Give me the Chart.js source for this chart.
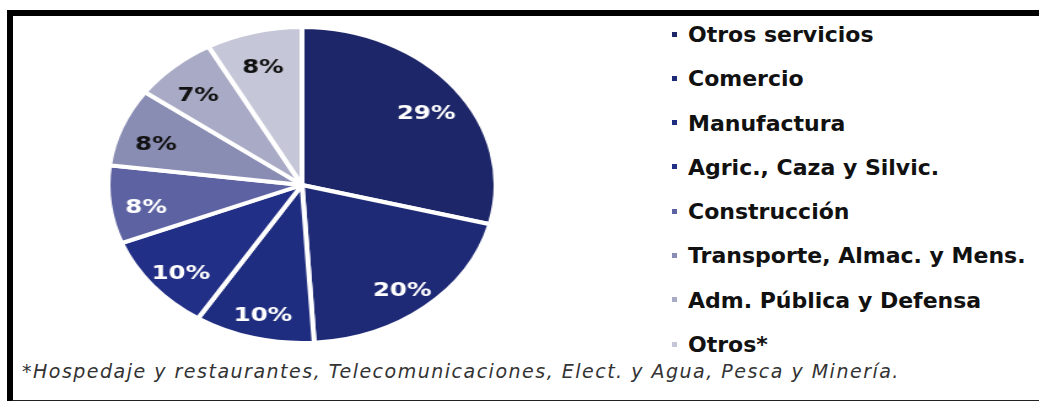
<!DOCTYPE html>
<html>
<head>
<meta charset="utf-8">
<title>Distribución por sector</title>
<script src="https://cdn.jsdelivr.net/npm/chart.js@4.4.1/dist/chart.umd.min.js"></script>
<style>
  body { margin: 0; background: #fff; width: 1039px; height: 401px; overflow: hidden; position: relative; font-family: "DejaVu Sans", sans-serif; }
  #frame { position: absolute; left: 7px; top: 10px; width: 1040px; height: 384px; border-top: 6px solid #000; border-left: 6px solid #000; border-bottom: 3px solid #222; }
  #pieBox { position: absolute; left: 142px; top: 25px; width: 320px; height: 320px; transform: scaleX(1.228); transform-origin: center center; }
  #legend { position: absolute; left: 672px; top: 13px; margin: 0; padding: 0; list-style: none; }
  #legend li { height: 44.3px; line-height: 44.3px; font-weight: bold; font-size: 22px; color: #111; white-space: nowrap; }
  #legend span { display: inline-block; width: 5px; height: 5px; margin-right: 11px; vertical-align: middle; position: relative; top: -2px; }
  #note { position: absolute; left: 22px; top: 360px; font-style: italic; font-size: 19px; letter-spacing: 1.5px; color: #333; white-space: nowrap; }
</style>
</head>
<body>
<div id="frame"></div>
<div id="pieBox"><canvas id="sectorChart"></canvas></div>
<ul id="legend"></ul>
<div id="note">*Hospedaje y restaurantes, Telecomunicaciones, Elect. y Agua, Pesca y Minería.</div>
<script>
// sectores y participación (%)
const sectores = ["Otros servicios", "Comercio", "Manufactura", "Agric., Caza y Silvic.", "Construcción", "Transporte, Almac. y Mens.", "Adm. Pública y Defensa", "Otros*"];
const porcentajes = [29, 20, 10, 10, 8, 8, 7, 8];
const colores = ["#1d2668", "#1e2a76", "#1f2d80", "#222f86", "#5d62a2", "#8a8db3", "#a9abc6", "#c5c6d7"];
const colorTexto = ["#fff", "#fff", "#fff", "#fff", "#fff", "#111", "#111", "#111"];

// etiquetas dentro de cada porción
const etiquetas = {
  id: "etiquetas",
  afterDatasetsDraw(chart) {
    const ctx = chart.ctx;
    const arcs = chart.getDatasetMeta(0).data;
    ctx.save();
    ctx.font = "bold 20px 'DejaVu Sans'";
    ctx.textAlign = "center";
    ctx.textBaseline = "middle";
    arcs.forEach((arc, i) => {
      const p = arc.getProps(["x", "y", "startAngle", "endAngle", "outerRadius"], true);
      const mid = (p.startAngle + p.endAngle) / 2;
      const r = p.outerRadius * 0.81;
      ctx.fillStyle = colorTexto[i];
      ctx.fillText(porcentajes[i] + "%", p.x + Math.cos(mid) * r, p.y + Math.sin(mid) * r + 7);
    });
    ctx.restore();
  }
};

new Chart(document.getElementById("sectorChart"), {
  type: "pie",
  data: {
    labels: sectores,
    datasets: [{
      data: porcentajes,
      backgroundColor: colores,
      borderColor: "#fff",
      borderWidth: 4
    }]
  },
  options: {
    responsive: true,
    maintainAspectRatio: false,
    animation: false,
    plugins: {
      legend: { display: false },
      tooltip: { enabled: false }
    }
  },
  plugins: [etiquetas]
});

// leyenda
const legend = document.getElementById("legend");
sectores.forEach((s, i) => {
  const li = document.createElement("li");
  li.innerHTML = '<span style="background:' + colores[i] + '"></span>' + s;
  legend.appendChild(li);
});
</script>
</body>
</html>
